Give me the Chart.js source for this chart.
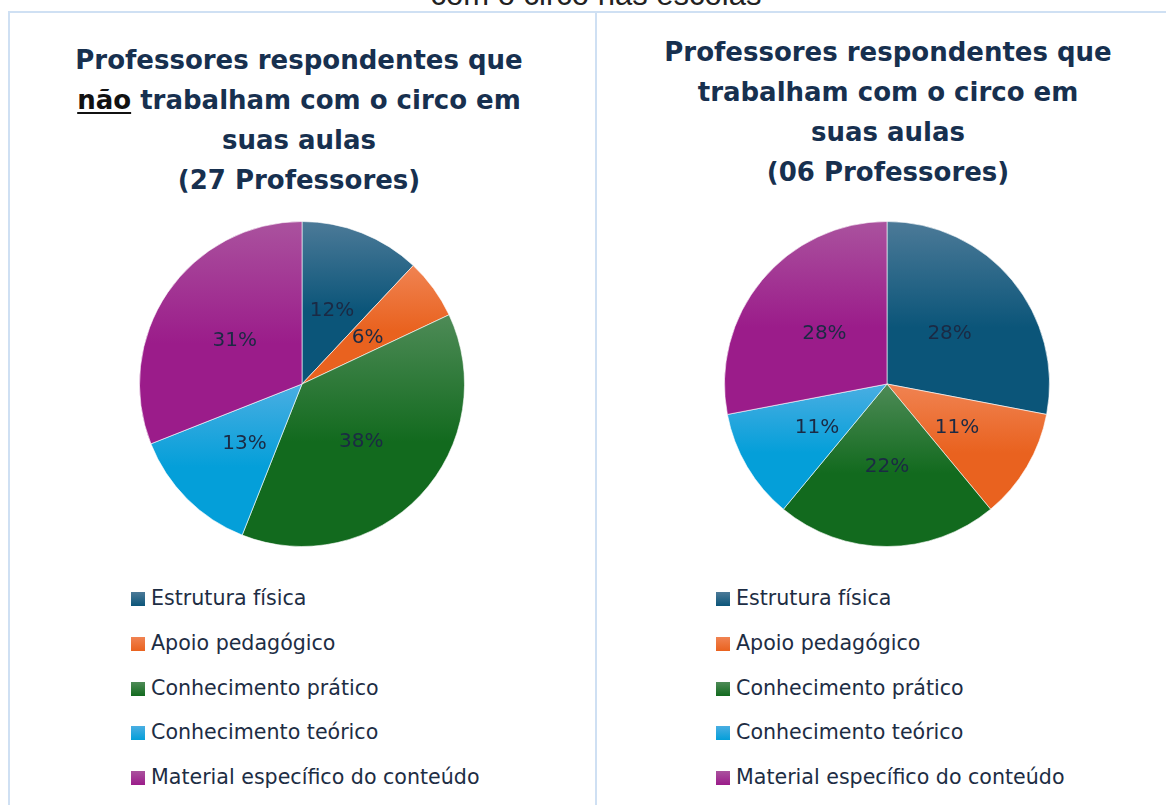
<!DOCTYPE html>
<html lang="pt-BR">
<head>
<meta charset="utf-8">
<title>Professores e o circo nas escolas</title>
<script src="https://cdn.jsdelivr.net/npm/chart.js@4.4.1/dist/chart.umd.min.js"></script>
<style>
  html, body { margin: 0; padding: 0; background: #fff; }
  body { width: 1166px; height: 805px; position: relative; overflow: hidden; font-family: "Liberation Sans", Arial, sans-serif; }
  .cut { position: absolute; left: 0; width: 1192px; top: -21px; text-align: center; font-size: 31px; line-height: 31px; color: #222; }
  .frame-top { position: absolute; left: 8px; right: 0; top: 11px; height: 2px; background: #cfe0f3; }
  .frame-left { position: absolute; left: 8px; top: 11px; bottom: 0; width: 2px; background: #cfe0f3; }
  .frame-mid { position: absolute; left: 595px; top: 11px; bottom: 0; width: 2px; background: #cfe0f3; }
  .title { position: absolute; text-align: center; font-family: "DejaVu Sans", sans-serif; font-weight: bold; font-size: 26px; line-height: 40px; color: #17304f; width: 560px; }
  .title u { color: #111; text-underline-offset: 3px; }
  .pie { position: absolute; top: 214px; width: 340px; height: 340px; }
  .legend { position: absolute; top: 585px; font-family: "DejaVu Sans", sans-serif; font-size: 20.6px; color: #1d2d44; }
  .legend div { height: 44.8px; line-height: 26px; white-space: nowrap; }
  .legend span.sw { display: inline-block; width: 14px; height: 14px; margin-right: 6px; vertical-align: -1px; }
</style>
</head>
<body>
<div class="cut">com o circo nas escolas</div>
<div class="frame-top"></div>
<div class="frame-left"></div>
<div class="frame-mid"></div>

<div class="title" style="left:19px; top:40px;">Professores respondentes que<br><u>não</u> trabalham com o circo em<br>suas aulas<br>(27 Professores)</div>
<div class="title" style="left:608px; top:32px;">Professores respondentes que<br>trabalham com o circo em<br>suas aulas<br>(06 Professores)</div>

<div class="pie" style="left:132px;"><canvas id="pieNao"></canvas></div>
<div class="pie" style="left:717px;"><canvas id="pieSim"></canvas></div>

<div class="legend" id="legNao" style="left:131px;"></div>
<div class="legend" id="legSim" style="left:716px;"></div>

<script>
const categorias = [
  'Estrutura física',
  'Apoio pedagógico',
  'Conhecimento prático',
  'Conhecimento teórico',
  'Material específico do conteúdo'
];
// percentuais
const naoTrabalham = [12, 6, 38, 13, 31];
const trabalham = [28, 11, 22, 11, 28];

// cor base (embaixo) e cor clara (em cima) de cada fatia
const corBase = ['#0b5579', '#e9621f', '#126a1e', '#049fd9', '#9b1c8a'];
const corClara = ['#4c7a98', '#f08352', '#4e8b57', '#4aaee2', '#aa529e'];

// gradiente vertical em cada fatia, como no original
const gradientePlugin = {
  id: 'gradiente',
  beforeDatasetsDraw(chart) {
    const ctx = chart.ctx;
    chart.getDatasetMeta(0).data.forEach((arc, i) => {
      const p = arc.getProps(['x', 'y', 'startAngle', 'endAngle', 'outerRadius'], true);
      let minY = p.y, maxY = p.y;
      const pts = [p.startAngle, p.endAngle];
      for (let a = -Math.PI * 2.5; a <= Math.PI * 2.5; a += Math.PI / 2) {
        if (a > p.startAngle && a < p.endAngle) pts.push(a);
      }
      pts.forEach(a => {
        const y = p.y + Math.sin(a) * p.outerRadius;
        minY = Math.min(minY, y);
        maxY = Math.max(maxY, y);
      });
      const g = ctx.createLinearGradient(0, minY, 0, maxY);
      g.addColorStop(0, corClara[i]);
      g.addColorStop(0.55, corBase[i]);
      g.addColorStop(1, corBase[i]);
      arc.options.backgroundColor = g;
    });
  }
};

const rotulosPlugin = {
  id: 'rotulos',
  afterDatasetsDraw(chart) {
    const ctx = chart.ctx;
    const valores = chart.data.datasets[0].data;
    ctx.save();
    ctx.font = '20px "DejaVu Sans", sans-serif';
    ctx.fillStyle = '#1b2a44';
    ctx.textAlign = 'center';
    ctx.textBaseline = 'middle';
    chart.getDatasetMeta(0).data.forEach((arc, i) => {
      const pos = arc.tooltipPosition();
      ctx.fillText(valores[i] + '%', pos.x, pos.y + 2);
    });
    ctx.restore();
  }
};

function pizza(id, valores) {
  return new Chart(document.getElementById(id), {
    type: 'pie',
    data: {
      labels: categorias,
      datasets: [{
        data: valores,
        backgroundColor: corBase,
        borderColor: 'rgba(255,255,255,0.6)',
        borderWidth: 1
      }]
    },
    options: {
      responsive: true,
      maintainAspectRatio: false,
      animation: false,
      layout: { padding: 7 },
      plugins: {
        legend: { display: false },
        tooltip: { enabled: false }
      }
    },
    plugins: [gradientePlugin, rotulosPlugin]
  });
}

pizza('pieNao', naoTrabalham);
pizza('pieSim', trabalham);

function legenda(id) {
  const el = document.getElementById(id);
  categorias.forEach((c, i) => {
    const row = document.createElement('div');
    const sw = document.createElement('span');
    sw.className = 'sw';
    sw.style.background = 'linear-gradient(' + corClara[i] + ', ' + corBase[i] + ')';
    row.appendChild(sw);
    row.appendChild(document.createTextNode(c));
    el.appendChild(row);
  });
}
legenda('legNao');
legenda('legSim');
</script>
</body>
</html>
